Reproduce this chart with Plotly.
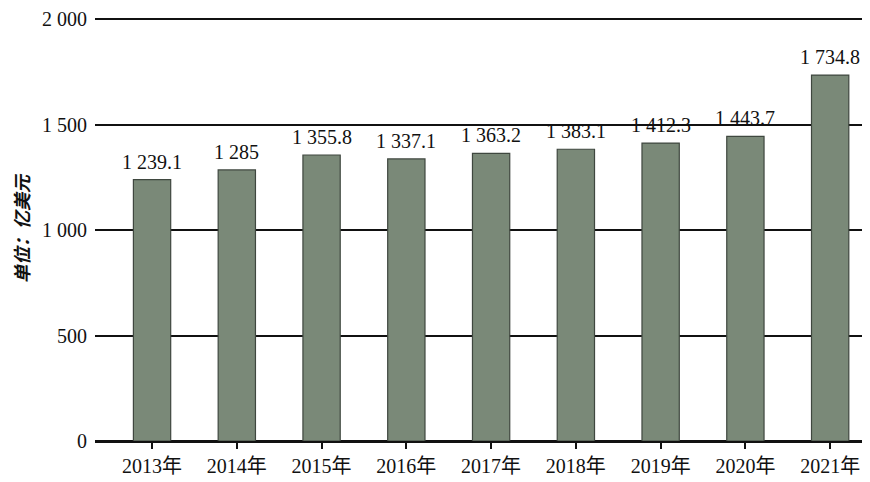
import plotly.graph_objects as go

years = ["2013年", "2014年", "2015年", "2016年", "2017年", "2018年", "2019年", "2020年", "2021年"]
values = [1239.1, 1285, 1355.8, 1337.1, 1363.2, 1383.1, 1412.3, 1443.7, 1734.8]
y_ticks = [0, 500, 1000, 1500, 2000]
y_tick_labels = ["0", "500", "1 000", "1 500", "2 000"]

font_family = "Liberation Serif, Noto Sans CJK SC, serif"


def fmt(v):
    return f"{v:,}".replace(",", " ")


fig = go.Figure()
fig.add_trace(go.Bar(
    x=years, y=values, width=0.44,
    marker=dict(color="#7a8978", line=dict(color="#3f473f", width=1.2)),
    hoverinfo="x+y",
))

for yr, v in zip(years, values):
    fig.add_annotation(
        x=yr, y=v, text=fmt(v), showarrow=False,
        yanchor="bottom", yshift=5,
        font=dict(family=font_family, size=20, color="#111"),
    )

# page body adds 8px, so the figure is sized to 862x474
fig.update_layout(
    width=862, height=474,
    margin=dict(l=87, r=0, t=9, b=41),
    paper_bgcolor="white", plot_bgcolor="white",
    showlegend=False,
    font=dict(family=font_family, size=20, color="#111"),
)
fig.update_xaxes(
    type="category", range=[-0.673, 8.47],
    showgrid=False, showline=False, zeroline=False,
    ticks="outside", ticklen=7, tickwidth=2, tickcolor="#111",
    tickfont=dict(family=font_family, size=20),
)
fig.update_yaxes(
    range=[0, 2010], tickvals=y_ticks, ticktext=y_tick_labels,
    showgrid=True, gridcolor="#111", gridwidth=2,
    zeroline=True, zerolinecolor="#111", zerolinewidth=2.5,
    showline=False, ticks="", ticklabelstandoff=7,
    tickfont=dict(family=font_family, size=20),
    title=dict(text="<b><i>单位：亿美元</i></b>", standoff=14,
               font=dict(family="Noto Sans CJK SC", size=18)),
)

fig.write_html("out.html")
